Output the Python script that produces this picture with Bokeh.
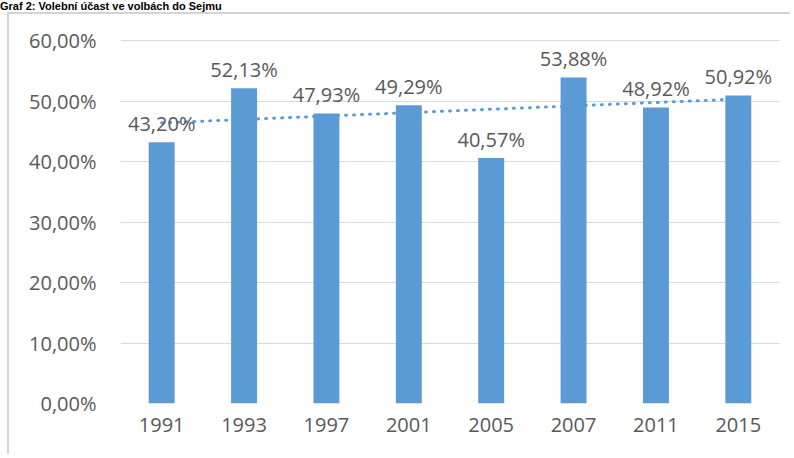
import numpy as np
from bokeh.plotting import figure
from bokeh.layouts import column
from bokeh.models import (ColumnDataSource, CustomJSTickFormatter, FixedTicker, Range1d,
                          FactorRange, Div)
from bokeh.core.properties import value
from bokeh.embed import file_html
from bokeh.resources import INLINE

title = "Graf 2: Volební účast ve volbách do Sejmu"
years = ["1991", "1993", "1997", "2001", "2005", "2007", "2011", "2015"]
turnout = [43.20, 52.13, 47.93, 49.29, 40.57, 53.88, 48.92, 50.92]
y_ticks = [0, 10, 20, 30, 40, 50, 60]

labels = [f"{v:.2f}".replace(".", ",") + "%" for v in turnout]
src = ColumnDataSource(dict(x=years, y=turnout, lab=labels))

# linear trendline (Excel-style) fitted to the data
idx = np.arange(1, len(turnout) + 1)
k, q = np.polyfit(idx, turnout, 1)
trend = list(k * idx + q)

FONT = "Open Sans"
GREY = "#595959"
BLUE = "#5B9BD5"

cap = Div(text=title, width=780, height=12, margin=(0, 0, 0, 0),
          styles={"font-family": "Liberation Sans", "font-weight": "bold",
                  "font-size": "11px", "line-height": "12px", "color": "black",
                  "white-space": "nowrap", "overflow": "visible"})

p = figure(x_range=FactorRange(*years, range_padding=0), y_range=Range1d(0, 60.5),
           width=783, height=442, margin=(0, 0, 0, 7), output_backend="svg", toolbar_location=None,
           min_border_left=111, min_border_right=13, min_border_top=23, min_border_bottom=53,
           styles={"border-top": "2px solid #d4d4d4", "border-left": "2px solid #d4d4d4"})
p.outline_line_color = None
p.background_fill_color = "white"
p.border_fill_color = "white"

p.line(years, trend, line_color=BLUE, line_width=3, line_dash="1 7", line_cap="round")
p.vbar(x="x", top="y", width=0.315, source=src, color=BLUE, line_color=None)
p.text(x="x", y="y", text="lab", source=src, text_align="center", text_baseline="alphabetic",
       y_offset=-19, text_font=value(FONT), text_font_size="20px", text_color=GREY)

p.yaxis.ticker = FixedTicker(ticks=y_ticks)
p.yaxis.formatter = CustomJSTickFormatter(code="return tick.toFixed(2).replace('.', ',') + '%';")
for ax in (p.xaxis[0], p.yaxis[0]):
    ax.axis_line_color = None
    ax.major_tick_line_color = None
    ax.minor_tick_line_color = None
    ax.major_label_text_font = FONT
    ax.major_label_text_font_size = "20px"
    ax.major_label_text_color = GREY
p.yaxis.major_label_standoff = 18
p.xaxis.major_label_standoff = 8

p.xgrid.grid_line_color = None
p.ygrid.grid_line_color = "#d9d9d9"
p.ygrid.grid_line_width = 1

layout = column(cap, p, spacing=0)
open("out.html", "w").write(file_html(layout, INLINE))
